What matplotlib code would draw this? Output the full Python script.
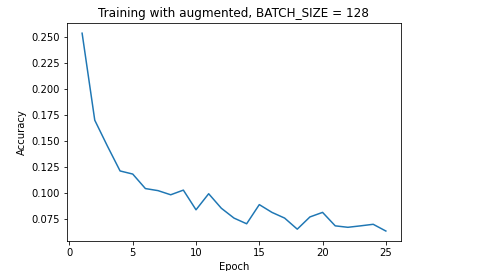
import matplotlib
matplotlib.use("Agg")
import matplotlib.pyplot as plt

epochs = list(range(1, 26))
accuracy = [0.254, 0.170, 0.145, 0.121, 0.118, 0.104, 0.102, 0.098, 0.1025,
            0.0835, 0.099, 0.085, 0.0755, 0.070, 0.0885, 0.081, 0.0755,
            0.0648, 0.0766, 0.081, 0.068, 0.0666, 0.068, 0.0695, 0.063]

fig = plt.figure(figsize=(478 / 72, 271 / 72), dpi=72)
ax = fig.add_axes([0.140, 0.111, 0.699, 0.803])
ax.plot(epochs, accuracy)
ax.set_title("Training with augmented, BATCH_SIZE = 128")
ax.set_xlabel("Epoch")
ax.set_ylabel("Accuracy")
ax.set_xticks([0, 5, 10, 15, 20, 25])
ax.set_yticks([0.075, 0.100, 0.125, 0.150, 0.175, 0.200, 0.225, 0.250])

fig.savefig("out.png", dpi=72)
